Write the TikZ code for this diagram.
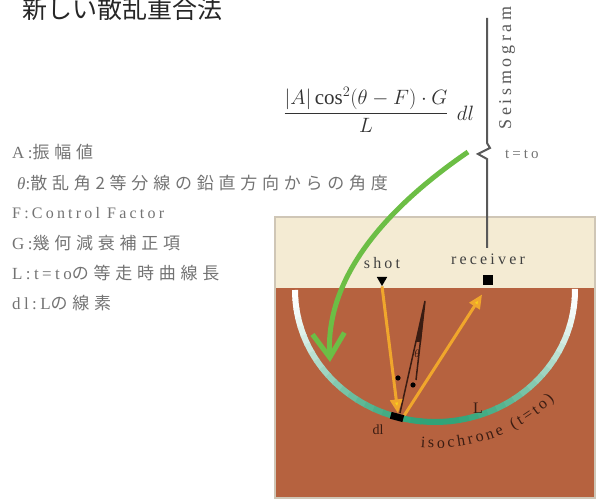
\documentclass[tikz,border=0pt]{standalone}
\usepackage{fontspec}
\setmainfont{Liberation Serif}
\newfontfamily\jpfont[LetterSpace=28]{Noto Sans CJK JP}
\newfontfamily\titlefont{Noto Sans CJK JP}
\newfontfamily\spacedfont[LetterSpace=20]{Liberation Serif}
\usepackage{xcolor}
\usepackage{tikz}
\usetikzlibrary{shapes,arrows.meta}
\usetikzlibrary{positioning}
\usetikzlibrary{decorations.text}
\definecolor{surface}{HTML}{F4EBD3}
\definecolor{ground}{HTML}{B6623F}
\definecolor{frame}{HTML}{CFC6B6}
\definecolor{isogreen}{HTML}{2FA377}
\definecolor{rayorange}{HTML}{F0A62C}
\definecolor{rayyellow}{HTML}{F8CF1E}
\definecolor{sweepgreen}{HTML}{6CBE45}
\definecolor{legendgray}{HTML}{737373}
\definecolor{tracegray}{HTML}{595959}
\definecolor{inkbrown}{HTML}{3A1C12}
\tikzstyle{legend} = [anchor=west, inner sep=0pt, text=legendgray,
                      font=\jpfont\fontsize{17}{17}\selectfont]
\tikzstyle{formula} = [inner sep=0pt, text=black!80,
                       font=\fontsize{21}{24}\selectfont]
\tikzstyle{station} = [fill=black, inner sep=0pt]
\tikzstyle{tag} = [inner sep=0pt, text=black!75, text height=10pt, text depth=0pt,
                   font=\spacedfont\fontsize{16}{16}\selectfont]
\tikzstyle{trace} = [draw=tracegray, line width=2pt]
\tikzstyle{ray} = [draw=rayorange, line width=3pt,
                   -{Triangle[length=14pt,width=12pt,fill=rayyellow]}]
\tikzstyle{sweep} = [draw=sweepgreen, line width=5pt,
                     -{Straight Barb[length=24pt,width=32pt]}]

\begin{document}
\begin{tikzpicture}[x=1pt, y=1pt]
  \useasboundingbox (0,0) rectangle (600,502);
  % Title and legend
  \node[anchor=west, inner sep=0pt, text=black!85,
        font=\titlefont\fontsize{25}{25}\selectfont] (title) at (22,493) {新しい散乱重合法};
  \node[legend] (amp) at (12,350) {{\spacedfont A:}振幅値};
  \node[legend] (theta) at (17,319) {{\spacedfont\itshape θ\upshape:}散乱角2等分線の鉛直方向からの角度};
  \node[legend, font=\spacedfont\fontsize{16}{16}\selectfont] (ctrl) at (12,289) {F:Control Factor};
  \node[legend] (geom) at (12,259) {{\spacedfont G:}幾何減衰補正項};
  \node[legend] (len) at (12,229) {{\spacedfont L:t=to}の等走時曲線長};
  \node[legend] (elem) at (12,199) {{\spacedfont dl:L}の線素};
  % Stacking weight
  \node[formula] (frac) at (366,392) {$\displaystyle\frac{|A|\cos^2(\theta - F)\cdot G}{L}$};
  \node[formula, right=8pt of frac, yshift=-3pt] (dlterm) {$dl$};
  % Ground model
  \fill[surface] (275,214) rectangle (595,285);
  \fill[ground] (275,4) rectangle (595,214);
  \draw[frame, line width=1.2pt] (275,4) rectangle (595,285);
  \coordinate (iso) at (435,212);
  \foreach \a in {180,184,...,356} {
    \pgfmathsetmacro\mix{100*pow(abs(sin(\a+2)),1.6)}
    \draw[line width=6pt, isogreen!\mix!white]
      ([shift={(\a:140 and 132)}]iso) arc[start angle=\a, end angle=\a+4.5, x radius=140, y radius=132];
  }
  \path[decorate, decoration={text along path, text align=fit to path, text color=inkbrown,
        text={|\rmfamily\fontsize{16}{16}\selectfont|isochrone (t=to)}}]
    ([shift={(265:166 and 158)}]iso) arc[start angle=265, end angle=316, x radius=166, y radius=158];
  % Place nodes
  \node[station, regular polygon, regular polygon sides=3, shape border rotate=180,
        minimum size=12pt] (shot) at (382,222) {};
  \node[station, minimum size=10pt] (receiver) at (488,222) {};
  \node[tag, above=8pt of shot] (shotlabel) {shot};
  \node[tag, above=10pt of receiver] (reclabel) {receiver};
  \node[station, minimum width=13pt, minimum height=7pt, rotate=-15] (dl) at (397,85) {};
  \node[inner sep=0pt, text=inkbrown, font=\fontsize{14}{14}\selectfont] (dllabel) at (378,72) {dl};
  \node[inner sep=0pt, text=inkbrown, font=\fontsize{16}{16}\selectfont] (Llabel) at (478,94) {L};
  % Bisector of the scattering angle
  \coordinate (apex) at (425,201);
  \fill[inkbrown] (apex) -- (416,160) -- (421,160) -- cycle;
  \draw[inkbrown, line width=1.5pt] (400,89) -- (apex) -- (416,122);
  \node[inner sep=0pt, text=inkbrown, font=\fontsize{11}{11}\selectfont\itshape] (thetalabel) at (417,148) {θ};
  \fill[black] (398,124) circle (2.6pt);
  \fill[black] (413,117) circle (2.6pt);
  % Draw edges
  \draw[ray] (shot.south) -- (dl.north);
  \draw[ray, shorten >=11pt] (dl.north east) -- (receiver.south);
  % Seismogram trace
  \coordinate (seistop) at (487,484);
  \coordinate (seisbot) at (487,254);
  \draw[trace] (seistop) -- ++(0,-125) -- ++(3,-5) -- ++(-12,-6) -- ++(9,-5) -- (seisbot);
  \node[rotate=90, inner sep=0pt, text=tracegray,
        font=\spacedfont\fontsize{18}{18}\selectfont] (seis) at (507,434) {Seismogram};
  \node[anchor=west, inner sep=0pt, text=legendgray,
        font=\spacedfont\fontsize{15}{15}\selectfont] (tzero) at (505,348) {t=to};
  % Migration sweep
  \coordinate (sweepstart) at (468,350);
  \coordinate (sweepend) at (330,140);
  \draw[sweep] (sweepstart) .. controls (395,300) and (325,230) .. (sweepend);
\end{tikzpicture}
\end{document}
